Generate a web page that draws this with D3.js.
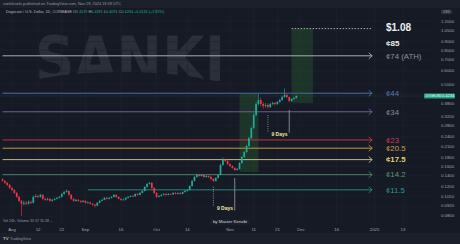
<!DOCTYPE html>
<html>
<head>
<meta charset="utf-8">
<script src="https://cdn.jsdelivr.net/npm/d3@7"></script>
<style>
  html, body { margin: 0; padding: 0; background: #161a25; }
  svg { display: block; font-family: "Liberation Sans", Arial, sans-serif; }
</style>
</head>
<body>
<svg id="chart" width="460" height="244"></svg>
<script>
// DOGE / USD daily candles, Jul 28 -> Nov 29 2024
const startDate = "2024-07-28";
const firstOpen = 0.1330;
const closes = [
  0.1301, 0.1266, 0.1231, 0.1180, 0.1148, 0.1102, 0.1043, 0.0987, 0.0948, 0.0961,
  0.0948, 0.0974, 0.0961, 0.1043, 0.1057, 0.1043, 0.1072, 0.1015, 0.1001, 0.1015,
  0.0987, 0.1001, 0.1015, 0.1029, 0.1043, 0.1087, 0.1117, 0.1132, 0.1072, 0.1015,
  0.0987, 0.1001, 0.0987, 0.0974, 0.0987, 0.0961, 0.0965, 0.0948, 0.0935, 0.0922,
  0.0961, 0.0987, 0.1001, 0.1029, 0.1015, 0.1029, 0.1043, 0.1072, 0.1043, 0.1015,
  0.1001, 0.1005, 0.1029, 0.1043, 0.1057, 0.1050, 0.1087, 0.1072, 0.1102, 0.1132,
  0.1197, 0.1248, 0.1266, 0.1180, 0.1102, 0.1043, 0.1057, 0.1072, 0.1087, 0.1072,
  0.1087, 0.1080, 0.1102, 0.1087, 0.1102, 0.1087, 0.1117, 0.1132, 0.1148, 0.1213,
  0.1301, 0.1375, 0.1414, 0.1394, 0.1414, 0.1375, 0.1394, 0.1375, 0.1338, 0.1301,
  0.1356, 0.1414, 0.1624, 0.1741, 0.1717, 0.1647, 0.1601, 0.1558, 0.1515, 0.1536,
  0.1670, 0.1815, 0.1945, 0.2114, 0.2363, 0.2715, 0.3252, 0.3790, 0.4006, 0.3790,
  0.3686, 0.3737, 0.3635, 0.3790, 0.3843, 0.3790, 0.3896, 0.4006, 0.4176, 0.4293,
  0.4176, 0.3951, 0.4061, 0.4118, 0.4234
];
const highs = [
  0.1350, 0.1320, 0.1285, 0.1250, 0.1200, 0.1165, 0.1120, 0.1060, 0.1000, 0.0990,
  0.0985, 0.0995, 0.0990, 0.1065, 0.1085, 0.1075, 0.1090, 0.1085, 0.1030, 0.1030,
  0.1025, 0.1015, 0.1030, 0.1040, 0.1055, 0.1100, 0.1135, 0.1160, 0.1145, 0.1085,
  0.1025, 0.1015, 0.1010, 0.0995, 0.1000, 0.0995, 0.0980, 0.0975, 0.0960, 0.0945,
  0.0970, 0.1000, 0.1015, 0.1040, 0.1045, 0.1040, 0.1055, 0.1085, 0.1080, 0.1050,
  0.1025, 0.1020, 0.1040, 0.1055, 0.1065, 0.1070, 0.1095, 0.1100, 0.1115, 0.1145,
  0.1210, 0.1265, 0.1290, 0.1280, 0.1195, 0.1115, 0.1070, 0.1085, 0.1100, 0.1095,
  0.1100, 0.1095, 0.1110, 0.1115, 0.1110, 0.1110, 0.1125, 0.1145, 0.1160, 0.1225,
  0.1320, 0.1395, 0.1440, 0.1435, 0.1430, 0.1425, 0.1410, 0.1405, 0.1390, 0.1350,
  0.1370, 0.1430, 0.1660, 0.1800, 0.1770, 0.1730, 0.1660, 0.1620, 0.1575, 0.1560,
  0.1690, 0.1840, 0.1980, 0.2150, 0.2400, 0.2780, 0.3350, 0.3900, 0.4350, 0.4150,
  0.3900, 0.3850, 0.3820, 0.3850, 0.3920, 0.3900, 0.3950, 0.4080, 0.4250, 0.4700,
  0.4380, 0.4200, 0.4120, 0.4180, 0.4280
];
const lows = [
  0.1285, 0.1250, 0.1215, 0.1165, 0.1130, 0.1085, 0.1030, 0.0970, 0.0800, 0.0925,
  0.0930, 0.0935, 0.0945, 0.0950, 0.1030, 0.1025, 0.1030, 0.1000, 0.0985, 0.0990,
  0.0975, 0.0975, 0.0990, 0.1005, 0.1020, 0.1035, 0.1075, 0.1105, 0.1060, 0.1000,
  0.0975, 0.0975, 0.0975, 0.0960, 0.0965, 0.0950, 0.0950, 0.0940, 0.0925, 0.0900,
  0.0915, 0.0955, 0.0980, 0.0995, 0.1005, 0.1005, 0.1020, 0.1035, 0.1030, 0.1005,
  0.0990, 0.0990, 0.0995, 0.1020, 0.1035, 0.1040, 0.1045, 0.1060, 0.1065, 0.1095,
  0.1125, 0.1185, 0.1235, 0.1165, 0.1085, 0.1030, 0.1035, 0.1045, 0.1065, 0.1060,
  0.1065, 0.1070, 0.1070, 0.1080, 0.1080, 0.1075, 0.1080, 0.1105, 0.1120, 0.1140,
  0.1200, 0.1290, 0.1360, 0.1380, 0.1380, 0.1360, 0.1360, 0.1355, 0.1320, 0.1280,
  0.1290, 0.1345, 0.1405, 0.1610, 0.1690, 0.1620, 0.1580, 0.1540, 0.1490, 0.1495,
  0.1520, 0.1650, 0.1790, 0.1920, 0.2090, 0.2330, 0.2680, 0.3200, 0.3700, 0.3650,
  0.3550, 0.3600, 0.3550, 0.3580, 0.3720, 0.3700, 0.3740, 0.3850, 0.3960, 0.4120,
  0.4100, 0.3880, 0.3900, 0.4020, 0.4090
];

// axes
const priceTicks = [1.2, 1.05, 0.9, 0.8, 0.7, 0.6, 0.5, 0.38, 0.32, 0.28, 0.24,
  0.21, 0.18, 0.16, 0.14, 0.12, 0.105, 0.092, 0.08];
const timeTickDates = ["2024-08-01", "2024-08-12", "2024-08-22", "2024-09-01", "2024-09-16",
  "2024-10-01", "2024-10-14", "2024-11-01", "2024-11-11", "2024-11-21", "2024-12-01",
  "2024-12-16", "2025-01-01", "2025-01-13"];
const timeTickLabels = ["Aug", "12", "22", "Sep", "16", "Oct", "14", "Nov", "11", "21",
  "Dec", "16", "2025", "13"];

// horizontal levels
const levelValues = [0.74, 0.44, 0.34, 0.23, 0.205, 0.175, 0.142, 0.115];
const levelLabels = ["¢74 (ATH)", "¢44", "¢34", "¢23", "¢20.5", "¢17.5", "¢14.2", "¢11.5"];
const levelStarts = ["2024-07-28", "2024-07-28", "2024-07-28", "2024-07-28", "2024-07-28",
  "2024-07-28", "2024-07-28", "2024-09-02"];
const targetValues = [1.08, 0.85];
const targetLabels = ["$1.08", "¢85"];
const lastPrice = 0.4234;

// styles
const levelLineColors = ["#a9acb5", "#4a6ea8", "#765b9b", "#bf353e", "#c8923a", "#c3bb84", "#4a8163", "#23867c"];
const levelTextColors = ["#8f929b", "#5679b4", "#8e86a6", "#cc3f47", "#d39c46", "#e2d46a", "#56976f", "#249c90"];
const upColor = "#22ab94", downColor = "#f23645";
const bg = "#161a25", panel = "#1c202b", gridColor = "#1f2331", axisText = "#a3a6af";

const svg = d3.select("#chart");
const W = 460, H = 244;
const plotRight = 432, plotTop = 8, plotBottom = 225;

// scales
const parse = d3.utcParse("%Y-%m-%d");
const x = d3.scaleUtc()
  .domain([parse("2024-07-28"), parse("2025-01-13")])
  .range([2.5, 403]);
const y = d3.scaleLog()
  .domain([1.2, 0.1])
  .range([21, 199.9]);

const candles = closes.map((c, i) => ({
  date: d3.utcDay.offset(parse(startDate), i),
  open: i === 0 ? firstOpen : closes[i - 1],
  high: highs[i],
  low: lows[i],
  close: c
}));

// backgrounds
svg.append("rect").attr("width", W).attr("height", H).attr("fill", bg);
svg.append("rect").attr("width", W).attr("height", plotTop).attr("fill", panel);
svg.append("rect").attr("y", 233).attr("width", W).attr("height", H - 233).attr("fill", panel);

// watermark
svg.append("text")
  .attr("x", 35).attr("y", 81)
  .attr("font-family", "'DejaVu Sans', sans-serif")
  .attr("font-weight", "bold")
  .attr("font-size", 62)
  .attr("textLength", 190)
  .attr("lengthAdjust", "spacingAndGlyphs")
  .attr("fill", "#2b2f3a")
  .text("SANKI");
svg.append("ellipse")
  .attr("cx", 122).attr("cy", 103).attr("rx", 132).attr("ry", 31)
  .attr("fill", bg);

// grid
const grid = svg.append("g");
grid.selectAll("line.h").data(priceTicks.concat([0.44])).enter().append("line")
  .attr("x1", 0).attr("x2", plotRight)
  .attr("y1", d => y(d)).attr("y2", d => y(d))
  .attr("stroke", gridColor).attr("stroke-width", 0.6);
grid.selectAll("line.v").data(timeTickDates).enter().append("line")
  .attr("x1", d => x(parse(d))).attr("x2", d => x(parse(d)))
  .attr("y1", plotTop).attr("y2", plotBottom)
  .attr("stroke", gridColor).attr("stroke-width", 0.6);

// long-position boxes
const boxes = [
  { x0: "2024-11-05", x1: "2024-11-13", top: 0.44, bottom: 0.1474 },
  { x0: "2024-11-27", x1: "2024-12-06", top: 1.08, bottom: 0.3843 }
];
svg.selectAll("rect.box").data(boxes).enter().append("rect")
  .attr("x", d => x(parse(d.x0)))
  .attr("width", d => x(parse(d.x1)) - x(parse(d.x0)))
  .attr("y", d => y(d.top))
  .attr("height", d => y(d.bottom) - y(d.top))
  .attr("fill", "#2e7d32").attr("fill-opacity", 0.28);

// levels with arrows
const arrowEnd = parse("2024-12-31");
const levels = svg.append("g");
levelValues.forEach((v, i) => {
  const yy = y(v), xe = x(arrowEnd);
  levels.append("line")
    .attr("x1", x(parse(levelStarts[i]))).attr("x2", xe)
    .attr("y1", yy).attr("y2", yy)
    .attr("stroke", levelLineColors[i]).attr("stroke-width", 1);
  levels.append("path")
    .attr("d", `M${xe - 3.5},${yy - 3}L${xe},${yy}L${xe - 3.5},${yy + 3}`)
    .attr("fill", "none").attr("stroke", levelLineColors[i]).attr("stroke-width", 0.9);
  levels.append("text")
    .attr("x", 386).attr("y", yy + 2.8)
    .attr("font-size", 7.8)
    .attr("font-weight", i === 5 ? "bold" : "normal")
    .attr("fill", levelTextColors[i])
    .text(levelLabels[i]);
});

// target dashed line and labels
levels.append("line")
  .attr("x1", x(parse("2024-11-27"))).attr("x2", x(parse("2024-12-31")))
  .attr("y1", y(targetValues[0])).attr("y2", y(targetValues[0]))
  .attr("stroke", "#c9ccd4").attr("stroke-width", 0.8).attr("stroke-dasharray", "1.5,1.5");
targetValues.forEach((v, i) => {
  levels.append("text")
    .attr("x", 386).attr("y", y(v) + (i === 0 ? 2.2 : 0.5))
    .attr("font-size", i === 0 ? 10 : 8)
    .attr("font-weight", "bold")
    .attr("fill", "#eceef2")
    .text(targetLabels[i]);
});

// current price line
svg.append("line")
  .attr("x1", 0).attr("x2", plotRight)
  .attr("y1", y(lastPrice)).attr("y2", y(lastPrice))
  .attr("stroke", upColor).attr("stroke-opacity", 0.5).attr("stroke-width", 0.6)
  .attr("stroke-dasharray", "1,1.5");

// candles
const bw = 1.7;
const cg = svg.append("g");
cg.selectAll("line.wick").data(candles).enter().append("line")
  .attr("x1", d => x(d.date)).attr("x2", d => x(d.date))
  .attr("y1", d => y(d.high)).attr("y2", d => y(d.low))
  .attr("stroke", d => d.close >= d.open ? upColor : downColor)
  .attr("stroke-width", 0.6);
cg.selectAll("rect.body").data(candles).enter().append("rect")
  .attr("x", d => x(d.date) - bw / 2)
  .attr("width", bw)
  .attr("y", d => y(Math.max(d.open, d.close)))
  .attr("height", d => Math.max(0.7, Math.abs(y(d.open) - y(d.close))))
  .attr("fill", d => d.close >= d.open ? upColor : downColor);

// "9 Days" measurements
const spans = [
  { dash: "2024-10-25", dTop: 0.1200, dBot: 0.0910, solid: "2024-11-03", sTop: 0.1356, sBot: 0.0862, label: 0.0890 },
  { dash: "2024-11-17", dTop: 0.3252, dBot: 0.2543, solid: "2024-11-26", sTop: 0.3486, sBot: 0.2543, label: 0.2480 }
];
spans.forEach(s => {
  svg.append("line")
    .attr("x1", x(parse(s.dash))).attr("x2", x(parse(s.dash)))
    .attr("y1", y(s.dTop)).attr("y2", y(s.dBot))
    .attr("stroke", "#c9ccd4").attr("stroke-width", 0.6).attr("stroke-dasharray", "1,1.2");
  svg.append("line")
    .attr("x1", x(parse(s.solid))).attr("x2", x(parse(s.solid)))
    .attr("y1", y(s.sTop)).attr("y2", y(s.sBot))
    .attr("stroke", "#8c8f99").attr("stroke-width", 0.9);
  svg.append("text")
    .attr("x", x(parse(s.dash)) + 3.5).attr("y", y(s.label) + 1.8)
    .attr("font-size", 5).attr("font-weight", "bold")
    .attr("fill", "#f2e6a0")
    .text("9 Days");
});

// right price axis
const axisG = svg.append("g");
axisG.append("rect").attr("x", plotRight).attr("y", plotTop).attr("width", W - plotRight)
  .attr("height", plotBottom - plotTop).attr("fill", bg);
axisG.selectAll("text.tick").data(priceTicks).enter().append("text")
  .attr("x", 441).attr("y", d => y(d) + 1.5)
  .attr("font-size", 4.3).attr("fill", axisText)
  .text(d => d3.format(".4f")(d));
axisG.append("rect").attr("x", 441).attr("y", 9.6).attr("width", 11).attr("height", 4.6)
  .attr("rx", 1).attr("fill", "#2a2e39");
axisG.append("text").attr("x", 446.5).attr("y", 13).attr("text-anchor", "middle")
  .attr("font-size", 3.6).attr("fill", axisText).text("USD");

// last price tag
axisG.append("rect")
  .attr("x", 424).attr("y", y(lastPrice) - 2.6).attr("width", 31).attr("height", 5.2)
  .attr("rx", 0.8).attr("fill", "#1fa37f");
axisG.append("text").attr("x", 425.5).attr("y", y(lastPrice) + 1.2)
  .attr("font-size", 3.2).attr("fill", "#ffffff").text("DOGEUSD");
axisG.append("text").attr("x", 442).attr("y", y(lastPrice) + 1.4)
  .attr("font-size", 4).attr("fill", "#ffffff").text(d3.format(".4f")(lastPrice));

// time axis
svg.selectAll("text.time").data(timeTickDates).enter().append("text")
  .attr("x", d => x(parse(d))).attr("y", 230.5)
  .attr("text-anchor", "middle")
  .attr("font-size", 4.3).attr("fill", axisText)
  .text((d, i) => timeTickLabels[i]);

// header texts
svg.append("text").attr("x", 3).attr("y", 5.3).attr("font-size", 3.9).attr("fill", "#9598a1")
  .text("sankikiselu published on TradingView.com, Nov 29, 2024 19:28 UTC");
const legend = svg.append("text").attr("x", 6).attr("y", 12.6).attr("font-size", 3.8);
legend.append("tspan").attr("fill", "#b2b5be").text("Dogecoin / U.S. Dollar, 1D, COINBASE  ");
[["O", "0.4119"], ["H", "0.4281"], ["L", "0.4091"], ["C", "0.4234"]].forEach(p => {
  legend.append("tspan").attr("fill", "#b2b5be").text(p[0]);
  legend.append("tspan").attr("fill", upColor).text(p[1] + " ");
});
legend.append("tspan").attr("fill", upColor).text("+0.0116 (+2.82%)");

// volume legend
svg.append("text").attr("x", 3).attr("y", 221.5).attr("font-size", 3.6).attr("fill", "#9598a1")
  .text("Vol 24h, Volume  33.37  35.38  ... ");

// author tag
svg.append("rect").attr("x", 210).attr("y", 219.2).attr("width", 40).attr("height", 5.4)
  .attr("fill", "#1c202b");
svg.append("text").attr("x", 230).attr("y", 223.2).attr("text-anchor", "middle")
  .attr("font-size", 4.4).attr("fill", "#d1d4dc").text("by Master Kenobi");

// footer
svg.append("text").attr("x", 3).attr("y", 240.3).attr("font-size", 4.4)
  .attr("font-weight", "bold").attr("fill", "#b2b5be").text("TV");
svg.append("text").attr("x", 10).attr("y", 240.3).attr("font-size", 3.8)
  .attr("fill", "#9598a1").text("TradingView");
</script>
</body>
</html>
